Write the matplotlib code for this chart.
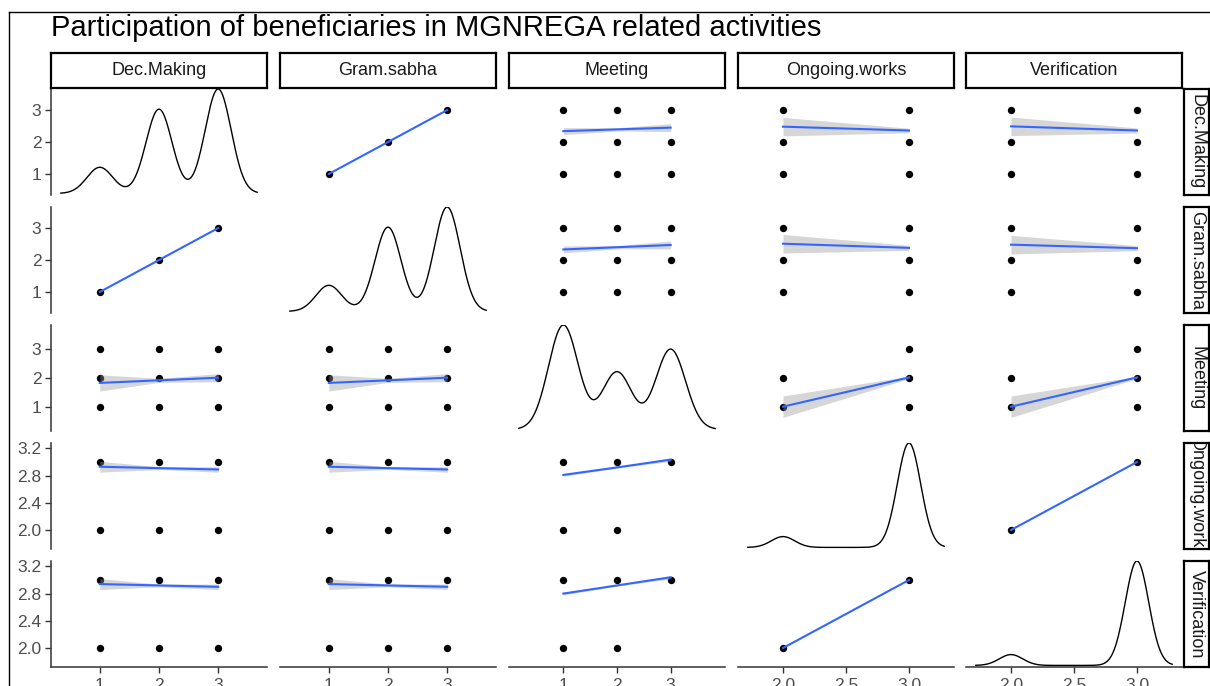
import numpy as np
import matplotlib
matplotlib.use("Agg")
import matplotlib.pyplot as plt
from matplotlib.lines import Line2D

plt.rcParams['font.family'] = ['Liberation Sans', 'DejaVu Sans']

W, H = 1210, 686

title = "Participation of beneficiaries in MGNREGA related activities"
variables = ["Dec.Making", "Gram.sabha", "Meeting", "Ongoing.works", "Verification"]

levels = {
    "Dec.Making": [1, 2, 3],
    "Gram.sabha": [1, 2, 3],
    "Meeting": [1, 2, 3],
    "Ongoing.works": [2, 3],
    "Verification": [2, 3],
}
counts = {
    "Dec.Making": [22, 71, 88],
    "Gram.sabha": [22, 71, 88],
    "Meeting": [78, 43, 60],
    "Ongoing.works": [17, 164],
    "Verification": [17, 164],
}

y_ticks = {
    "Dec.Making": [1, 2, 3],
    "Gram.sabha": [1, 2, 3],
    "Meeting": [1, 2, 3],
    "Ongoing.works": [2.0, 2.4, 2.8, 3.2],
    "Verification": [2.0, 2.4, 2.8, 3.2],
}
x_ticks = {
    "Dec.Making": [1, 2, 3],
    "Gram.sabha": [1, 2, 3],
    "Meeting": [1, 2, 3],
    "Ongoing.works": [2.0, 2.5, 3.0],
    "Verification": [2.0, 2.5, 3.0],
}
tick_fmt = {
    "Dec.Making": "{:g}", "Gram.sabha": "{:g}", "Meeting": "{:g}",
    "Ongoing.works": "{:.1f}", "Verification": "{:.1f}",
}

# observed (a, b) combinations for each pair of variables
full9 = [(1, 1), (1, 2), (1, 3), (2, 1), (2, 2), (2, 3), (3, 1), (3, 2), (3, 3)]
full6 = [(1, 2), (1, 3), (2, 2), (2, 3), (3, 2), (3, 3)]
pair_points = {
    ("Dec.Making", "Gram.sabha"): [(1, 1), (2, 2), (3, 3)],
    ("Dec.Making", "Meeting"): full9,
    ("Dec.Making", "Ongoing.works"): full6,
    ("Dec.Making", "Verification"): full6,
    ("Gram.sabha", "Meeting"): full9,
    ("Gram.sabha", "Ongoing.works"): full6,
    ("Gram.sabha", "Verification"): full6,
    ("Meeting", "Ongoing.works"): [(1, 2), (1, 3), (2, 2), (2, 3), (3, 3)],
    ("Meeting", "Verification"): [(1, 2), (1, 3), (2, 2), (2, 3), (3, 3)],
    ("Ongoing.works", "Verification"): [(2, 2), (3, 3)],
}

# lm fit (row variable ~ column variable) at the column's levels, and CI half width
fit_y = {
    ("Dec.Making", "Gram.sabha"): [1, 2, 3],
    ("Dec.Making", "Meeting"): [2.34, 2.395, 2.45],
    ("Dec.Making", "Ongoing.works"): [2.48, 2.36],
    ("Dec.Making", "Verification"): [2.49, 2.36],
    ("Gram.sabha", "Dec.Making"): [1, 2, 3],
    ("Gram.sabha", "Meeting"): [2.33, 2.40, 2.47],
    ("Gram.sabha", "Ongoing.works"): [2.51, 2.38],
    ("Gram.sabha", "Verification"): [2.48, 2.37],
    ("Meeting", "Dec.Making"): [1.83, 1.92, 2.01],
    ("Meeting", "Gram.sabha"): [1.83, 1.92, 2.01],
    ("Meeting", "Ongoing.works"): [1.01, 2.02],
    ("Meeting", "Verification"): [1.01, 2.02],
    ("Ongoing.works", "Dec.Making"): [2.93, 2.91, 2.89],
    ("Ongoing.works", "Gram.sabha"): [2.93, 2.91, 2.89],
    ("Ongoing.works", "Meeting"): [2.81, 2.92, 3.035],
    ("Ongoing.works", "Verification"): [2, 3],
    ("Verification", "Dec.Making"): [2.94, 2.92, 2.90],
    ("Verification", "Gram.sabha"): [2.94, 2.92, 2.90],
    ("Verification", "Meeting"): [2.80, 2.92, 3.04],
    ("Verification", "Ongoing.works"): [2, 3],
}
fit_hw = {
    ("Dec.Making", "Gram.sabha"): [0, 0, 0],
    ("Dec.Making", "Meeting"): [0.11, 0.05, 0.125],
    ("Dec.Making", "Ongoing.works"): [0.29, 0.07],
    ("Dec.Making", "Verification"): [0.29, 0.08],
    ("Gram.sabha", "Dec.Making"): [0, 0, 0],
    ("Gram.sabha", "Meeting"): [0.11, 0.05, 0.125],
    ("Gram.sabha", "Ongoing.works"): [0.29, 0.08],
    ("Gram.sabha", "Verification"): [0.29, 0.08],
    ("Meeting", "Dec.Making"): [0.28, 0.07, 0.14],
    ("Meeting", "Gram.sabha"): [0.28, 0.07, 0.14],
    ("Meeting", "Ongoing.works"): [0.37, 0.04],
    ("Meeting", "Verification"): [0.37, 0.04],
    ("Ongoing.works", "Dec.Making"): [0.08, 0.02, 0.04],
    ("Ongoing.works", "Gram.sabha"): [0.08, 0.02, 0.04],
    ("Ongoing.works", "Meeting"): [0.02, 0.01, 0.025],
    ("Ongoing.works", "Verification"): [0, 0],
    ("Verification", "Dec.Making"): [0.08, 0.02, 0.04],
    ("Verification", "Gram.sabha"): [0.08, 0.02, 0.04],
    ("Verification", "Meeting"): [0.02, 0.01, 0.025],
    ("Verification", "Ongoing.works"): [0, 0],
}


def expand(v, c):
    return np.repeat(np.array(v, float), c)


def bw_nrd0(x):
    sd = np.std(x, ddof=1)
    q1, q3 = np.percentile(x, [25, 75])
    lo = min(sd, (q3 - q1) / 1.34)
    if lo == 0:
        lo = sd
    return 0.9 * lo * len(x) ** -0.2


def density(v):
    x = expand(levels[v], counts[v])
    bw = bw_nrd0(x)
    grid = np.linspace(x.min() - 3 * bw, x.max() + 3 * bw, 512)
    d = np.exp(-0.5 * ((grid[:, None] - x[None, :]) / bw) ** 2).sum(axis=1)
    return grid, d / (len(x) * bw * np.sqrt(2 * np.pi))


dens = {v: density(v) for v in variables}
yl = {v: (dens[v][0][0], dens[v][0][-1]) for v in variables}
xl = {}
for v in variables:
    a, b = yl[v]
    xl[v] = (a - 0.05 * (b - a), b + 0.05 * (b - a))


def points_for(rv, cv):
    if (cv, rv) in pair_points:
        return pair_points[(cv, rv)]
    return [(b, a) for a, b in pair_points[(rv, cv)]]


fig = plt.figure(figsize=(W / 100, H / 100), dpi=100)

col_left = [51, 280, 509, 738, 966]
row_top = [89, 207, 325, 443, 561]
pw, ph = 216, 106
axis_col = '#333333'
text_col = '#4D4D4D'

for i, rv in enumerate(variables):
    for j, cv in enumerate(variables):
        ax = fig.add_axes([col_left[j] / W, 1 - (row_top[i] + ph) / H, pw / W, ph / H])
        ax.set_xlim(xl[cv])
        ax.set_ylim(yl[rv])
        for s in ax.spines.values():
            s.set_visible(False)
        if i == j:
            g, d = dens[cv]
            lo, hi = yl[rv]
            ax.plot(g, lo + (hi - lo) * (0.015 + 0.985 * d / d.max()), color='black', lw=1.0)
        else:
            pts = points_for(rv, cv)
            ax.scatter([p[0] for p in pts], [p[1] for p in pts], s=28, color='black',
                       zorder=2, linewidths=0)
            xs = levels[cv]
            fy = np.array(fit_y[(rv, cv)])
            hw = np.array(fit_hw[(rv, cv)])
            ax.fill_between(xs, fy - hw, fy + hw, color='#999999', alpha=0.4,
                            linewidth=0, zorder=3)
            ax.plot(xs, fy, color='#3366FF', lw=1.5, zorder=4)
        if j == 0:
            ax.spines['left'].set_visible(True)
            ax.spines['left'].set_color(axis_col)
            ax.spines['left'].set_linewidth(1.1)
            ax.set_yticks(y_ticks[rv])
            ax.set_yticklabels([tick_fmt[rv].format(t) for t in y_ticks[rv]])
            ax.tick_params(axis='y', length=4, width=1, color=axis_col, pad=3,
                           labelsize=12.5, labelcolor=text_col)
        else:
            ax.set_yticks([])
        if i == len(variables) - 1:
            ax.spines['bottom'].set_visible(True)
            ax.spines['bottom'].set_color(axis_col)
            ax.spines['bottom'].set_linewidth(1.1)
            ax.set_xticks(x_ticks[cv])
            ax.set_xticklabels([tick_fmt[cv].format(t) for t in x_ticks[cv]])
            ax.tick_params(axis='x', length=4, width=1, color=axis_col, pad=4,
                           labelsize=12.5, labelcolor=text_col)
        else:
            ax.set_xticks([])
        ax.patch.set_alpha(0)

# strips
for j, v in enumerate(variables):
    sax = fig.add_axes([col_left[j] / W, 1 - 88 / H, pw / W, 35 / H])
    sax.set_xticks([]); sax.set_yticks([])
    for s in sax.spines.values():
        s.set_linewidth(1.6); s.set_color('black')
    sax.text(0.5, 0.5, v, ha='center', va='center', fontsize=13, color='#1A1A1A',
             transform=sax.transAxes, clip_on=True)

for i, v in enumerate(variables):
    sax = fig.add_axes([1184 / W, 1 - (row_top[i] + ph) / H, 25 / W, ph / H])
    sax.set_xticks([]); sax.set_yticks([])
    for s in sax.spines.values():
        s.set_linewidth(1.6); s.set_color('black')
    sax.text(0.5, 0.5, v, ha='center', va='center', fontsize=13, color='#1A1A1A',
             rotation=270, transform=sax.transAxes, clip_on=True)

fig.text(51 / W, 1 - 36 / H, title, fontsize=21, color='black', va='baseline', ha='left')

# frame of the screenshot
fig.add_artist(Line2D([9 / W, 9 / W], [0, 1 - 12 / H], color='black', lw=1))
fig.add_artist(Line2D([9 / W, 1], [1 - 12 / H, 1 - 12 / H], color='black', lw=1))

fig.savefig("out.png", dpi=100)
